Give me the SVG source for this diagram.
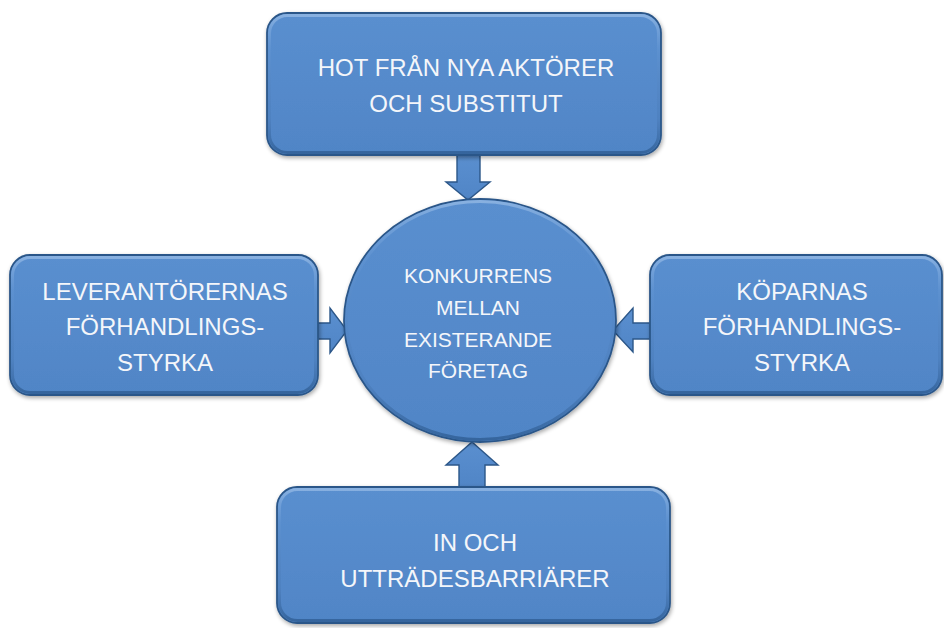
<svg xmlns="http://www.w3.org/2000/svg" width="944" height="628" viewBox="0 0 944 628">
  <style>
    .shape { fill: url(#bodyFill); stroke: #2C5789; stroke-width: 1.8; filter: url(#soft); }
    .bevel { fill: none; stroke: url(#bevelStroke); stroke-width: 3; }
    .arrow { fill: url(#bodyFill); stroke: #2C5789; stroke-width: 1.4; stroke-linejoin: miter; }
    .label { font-family: "Liberation Sans", Arial, sans-serif; font-size: 24px; fill: #F4F6FA; text-anchor: middle; }
    .small { font-size: 21px; }
  </style>
  <defs>
    <linearGradient id="bodyFill" x1="0" y1="0" x2="0" y2="1">
      <stop offset="0" stop-color="#5A8FCF"/>
      <stop offset="0.5" stop-color="#558ACB"/>
      <stop offset="1" stop-color="#5085C6"/>
    </linearGradient>
    <linearGradient id="bevelStroke" x1="0" y1="0" x2="0" y2="1">
      <stop offset="0" stop-color="#8DB4E2" stop-opacity="0.9"/>
      <stop offset="0.25" stop-color="#6A9BD6" stop-opacity="0.3"/>
      <stop offset="0.75" stop-color="#3D6BA3" stop-opacity="0.2"/>
      <stop offset="1" stop-color="#2F5D93" stop-opacity="0.8"/>
    </linearGradient>
    <filter id="soft" x="-5%" y="-5%" width="110%" height="115%">
      <feGaussianBlur in="SourceAlpha" stdDeviation="2"/>
      <feOffset dx="1" dy="2" result="b"/>
      <feComponentTransfer><feFuncA type="linear" slope="0.35"/></feComponentTransfer>
      <feMerge><feMergeNode/><feMergeNode in="SourceGraphic"/></feMerge>
    </filter>
  </defs>

  <rect width="944" height="628" fill="#FFFFFF"/>

  <!-- block arrows pointing at the centre circle -->
  <g id="connectors">
    <path class="arrow" d="M457,155 L480,155 L480,182 L490,182 L468,200 L446,182 L457,182 Z"/>
    <path class="arrow" d="M318,323 L330,323 L330,308 L347,330.5 L330,353 L330,339 L318,339 Z"/>
    <path class="arrow" d="M650,323 L633,323 L633,308 L613,330.5 L633,352 L633,339 L650,339 Z"/>
    <path class="arrow" d="M459,488 L459,465 L446,465 L472,442 L498,465 L485,465 L485,488 Z"/>
  </g>

  <g id="node-centre">
    <ellipse class="shape" cx="480" cy="320.5" rx="136" ry="121.5"/>
    <ellipse class="bevel" cx="480" cy="320.5" rx="133.5" ry="119"/>
    <text class="label small" x="478" y="283">KONKURRENS</text>
    <text class="label small" x="478" y="315">MELLAN</text>
    <text class="label small" x="478" y="347">EXISTERANDE</text>
    <text class="label small" x="478" y="378">FÖRETAG</text>
  </g>

  <g id="node-top">
    <rect class="shape" x="267" y="13" width="394" height="142" rx="20" ry="20"/>
    <rect class="bevel" x="269.5" y="15.5" width="389" height="137" rx="18" ry="18"/>
    <text class="label" x="466" y="76">HOT FRÅN NYA AKTÖRER</text>
    <text class="label" x="466" y="112">OCH SUBSTITUT</text>
  </g>

  <g id="node-left">
    <rect class="shape" x="10" y="255" width="308" height="140" rx="20" ry="20"/>
    <rect class="bevel" x="12.5" y="257.5" width="303" height="135" rx="18" ry="18"/>
    <text class="label" x="165" y="300">LEVERANTÖRERNAS</text>
    <text class="label" x="165" y="335">FÖRHANDLINGS-</text>
    <text class="label" x="165" y="371">STYRKA</text>
  </g>

  <g id="node-right">
    <rect class="shape" x="650" y="255" width="292" height="140" rx="20" ry="20"/>
    <rect class="bevel" x="652.5" y="257.5" width="287" height="135" rx="18" ry="18"/>
    <text class="label" x="802" y="300">KÖPARNAS</text>
    <text class="label" x="802" y="335">FÖRHANDLINGS-</text>
    <text class="label" x="802" y="371">STYRKA</text>
  </g>

  <g id="node-bottom">
    <rect class="shape" x="277" y="487" width="393" height="136" rx="20" ry="20"/>
    <rect class="bevel" x="279.5" y="489.5" width="388" height="131" rx="18" ry="18"/>
    <text class="label" x="475" y="551">IN OCH</text>
    <text class="label" x="475" y="587">UTTRÄDESBARRIÄRER</text>
  </g>
</svg>
